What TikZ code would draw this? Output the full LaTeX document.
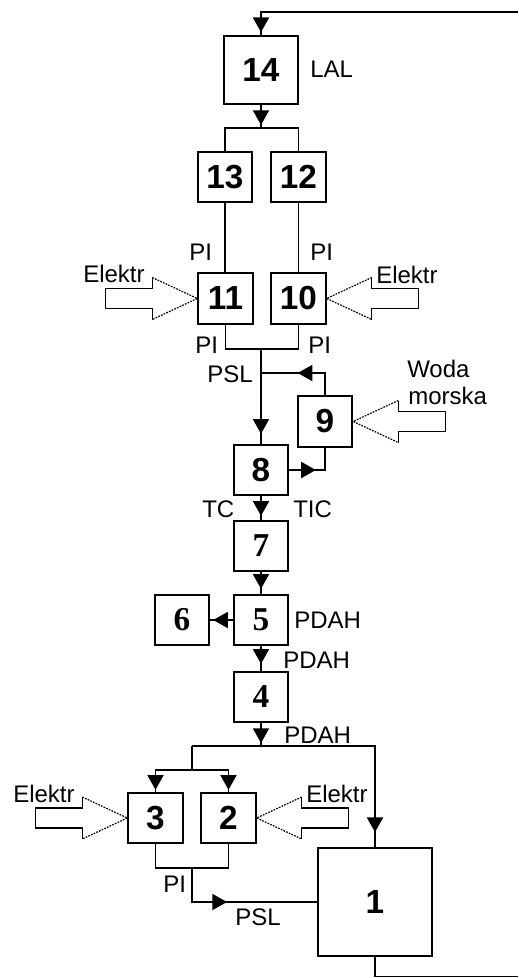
\documentclass[tikz,border=0pt]{standalone}
\usepackage{fontspec}
\setmainfont{Liberation Sans}
\newfontfamily\serifdig{Liberation Serif}
\usetikzlibrary{arrows.meta,decorations.markings}
\begin{document}
\begin{tikzpicture}[x=0.75pt,y=-0.75pt,
  ln/.style={line width=1.3pt},
  box/.style={draw,ln,inner sep=0pt,font=\fontsize{25}{25}\selectfont\bfseries},
  sq/.style={box,minimum width=41pt,minimum height=38pt},
  big/.style={box,minimum width=55.5pt,minimum height=51pt},
  huge/.style={box,minimum width=86pt,minimum height=81pt},
  serifnum/.style={font=\fontsize{25}{25}\selectfont\serifdig\bfseries},
  lbl/.style={anchor=base west,inner sep=0pt,font=\fontsize{18}{18}\selectfont},
  arrat/.style={postaction={decorate},decoration={markings,mark=at position #1 with {\arrow{Triangle[length=11pt,width=12pt]}}}},
  hol/.style={line width=1pt},
  holtip/.style={line width=0.9pt,dash pattern=on 1.3pt off 0.9pt},
  harrow/.pic={
    \draw[hol] (-45,-21) -- (-45,-10) -- (-92,-10) -- (-92,10) -- (-45,10) -- (-45,21);
    \draw[holtip] (-45,-21) -- (0,0) -- (-45,21);
  }
]
\useasboundingbox (0,0) rectangle (518,978);
\fill[white] (0,0) rectangle (518,978);

% boxes
\node[big] (b14) at (261,70) {14};
\node[sq] (b13) at (225,177) {13};
\node[sq] (b12) at (298.5,177) {12};
\node[sq] (b11) at (225.5,298.5) {11};
\node[sq] (b10) at (298.5,298.5) {10};
\node[sq] (b9) at (325,421.5) {9};
\node[sq] (b8) at (261,470) {8};
\node[sq,serifnum] (b7) at (261,546) {7};
\node[sq,serifnum] (b5) at (261,620) {5};
\node[sq,serifnum] (b6) at (182,620) {6};
\node[sq,serifnum] (b4) at (261,697) {4};
\node[sq] (b3) at (155.5,818) {3};
\node[sq] (b2) at (228.5,818) {2};
\node[huge] (b1) at (375,902) {1};

% labels
\node[lbl] (lal) at (310,77) {LAL};
\node[lbl] (pi1) at (189,260) {PI};
\node[lbl] (pi2) at (310,260) {PI};
\node[lbl] (el1) at (83,282) {Elektr};
\node[lbl] (el2) at (376,283) {Elektr};
\node[lbl] (pi3) at (195,353) {PI};
\node[lbl] (pi4) at (308,353) {PI};
\node[lbl] (psl1) at (207,382) {PSL};
\node[lbl] (woda) at (407,377) {Woda};
\node[lbl] (morska) at (408,404) {morska};
\node[lbl] (tc) at (202,517) {TC};
\node[lbl] (tic) at (293,517) {TIC};
\node[lbl] (pdah1) at (294,628) {PDAH};
\node[lbl] (pdah2) at (283,668) {PDAH};
\node[lbl] (pdah3) at (284,743) {PDAH};
\node[lbl] (el3) at (13,802) {Elektr};
\node[lbl] (el4) at (306,802) {Elektr};
\node[lbl] (pi5) at (163,892) {PI};
\node[lbl] (psl2) at (235,925) {PSL};

% hollow input arrows
\pic at (b11.west) {harrow};
\pic[xscale=-1] at (b10.east) {harrow};
\pic[xscale=-1] at (b9.east) {harrow};
\pic at (b3.west) {harrow};
\pic[xscale=-1] at (b2.east) {harrow};

% connectors
\coordinate (inR) at (518,12);
\draw[ln,arrat=-2.25pt] (inR) -| (b14.north);
\coordinate (s1) at (261,128);
\draw[ln,arrat=-2.25pt] (b14.south) -- (s1);
\draw[ln] (b13.north) |- (s1) -| (b12.north);
\draw[ln] (b13.south) -- (b13.south |- b11.north);
\draw[ln] (b12.south) -- (b12.south |- b10.north);
\coordinate (j1) at (261,349);
\draw[ln] (b11.south) |- (j1) -| (b10.south);
\draw[ln,arrat=-7.5pt] (j1) -- (b8.north);
\coordinate (j2) at (261,373);
\draw[ln,arrat=-27.5pt] (b9.north) |- (j2);
\draw[ln,arrat=20pt] (b8.east) -| (b9.south);
\draw[ln,arrat=-3pt] (b8.south) -- (b7.north);
\draw[ln,arrat=-3.75pt] (b7.south) -- (b5.north);
\draw[ln,arrat=-2.25pt] (b5.west) -- (b6.east);
\draw[ln,arrat=-5.25pt] (b5.south) -- (b4.north);
\coordinate (s2) at (261,746);
\draw[ln,arrat=-2.25pt] (b4.south) -- (s2);
\coordinate (s2l) at (192,746);
\draw[ln,arrat=-11.25pt] (s2l) -| (b1.north);
\coordinate (s3) at (192,770);
\draw[ln] (s2l) -- (s3);
\draw[ln,arrat=-1.5pt] (s3) -| (b3.north);
\draw[ln,arrat=-1.5pt] (s3) -| (b2.north);
\coordinate (j3) at (192,868);
\draw[ln] (b3.south) |- (j3) -| (b2.south);
\draw[ln,arrat=51.75pt] (j3) |- (b1.west);
\coordinate (outR) at (518,976.5);
\draw[ln] (b1.south) |- (outR);
\end{tikzpicture}
\end{document}
